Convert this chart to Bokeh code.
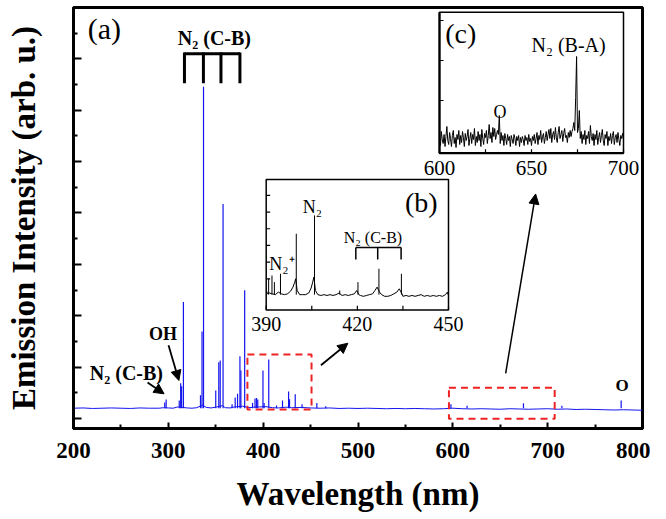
from bokeh.plotting import figure
from bokeh.models import Range1d, FixedTicker, CustomJSTickFormatter, Arrow, NormalHead
from bokeh.core.properties import value
from bokeh.embed import file_html
from bokeh.resources import INLINE

# ---------------- data ----------------
# main spectrum: baseline samples
main_base_wl = [200, 210, 220, 230, 240, 250, 260, 270, 280, 290, 295, 300, 305, 310,
                320, 325, 330, 336, 340, 345, 350, 357, 360, 365, 370, 378, 385, 390,
                396, 403, 410, 416, 424, 430, 440, 450, 460, 470, 480, 490, 500, 510,
                520, 530, 540, 550, 560, 570, 580, 590, 600, 610, 620, 630, 640, 650,
                660, 670, 680, 690, 700, 710, 720, 730, 740, 750, 760, 770, 780, 790, 800]
main_base_val = [0.40, 0.41, 0.39, 0.40, 0.41, 0.40, 0.39, 0.41, 0.40, 0.40, 0.42, 0.41, 0.40, 0.45,
                 0.41, 0.40, 0.42, 0.52, 0.43, 0.41, 0.44, 0.50, 0.42, 0.41, 0.45, 0.48, 0.42, 0.44,
                 0.45, 0.46, 0.42, 0.41, 0.44, 0.42, 0.43, 0.41, 0.40, 0.41, 0.39, 0.40, 0.39, 0.40,
                 0.39, 0.38, 0.39, 0.38, 0.39, 0.38, 0.37, 0.38, 0.40, 0.38, 0.37, 0.38, 0.37, 0.36,
                 0.38, 0.37, 0.36, 0.37, 0.38, 0.36, 0.37, 0.35, 0.36, 0.35, 0.34, 0.33, 0.34, 0.33, 0.32]
main_floor = 0.40
# main spectrum: emission lines (wavelength nm, top value)
main_peak_wl = [296.2, 297.7, 311.5, 313.0, 314.0, 315.9, 333.9, 335.5, 337.1, 350.0,
                353.2, 354.7, 357.7, 367.2, 370.5, 373.0, 375.5, 376.5, 380.5, 388.8,
                391.4, 393.0, 394.3, 399.8, 401.0, 405.9, 414.1, 420.4, 426.8, 427.8,
                433.8, 441.0, 456.6, 466.0, 598.0, 615.0, 674.5, 715.0, 777.5]
main_peak_val = [0.62, 0.74, 0.70, 1.37, 1.25, 4.53, 0.90, 3.39, 12.91, 1.09,
                 2.19, 2.26, 8.35, 0.55, 0.82, 0.96, 2.42, 1.87, 4.99, 0.60,
                 0.78, 0.80, 0.74, 1.87, 0.60, 2.30, 0.51, 0.70, 1.05, 0.75,
                 0.94, 0.55, 0.60, 0.48, 0.55, 0.50, 0.59, 0.50, 0.70]

# inset (b): 390-450 nm
b_base_wl = [390, 390.5, 391, 392, 393, 394, 395, 396, 397, 398, 398.8, 399.4, 399.7, 400.2,
             401, 402, 403, 404, 404.8, 405.3, 405.7, 406.2, 407, 408, 409, 410, 411, 412,
             413, 414, 414.6, 415, 416, 417, 418, 419, 419.8, 420.5, 421, 422, 423, 424,
             425, 425.8, 426.5, 427.3, 428, 429, 430, 431, 432, 433, 433.8, 434.7, 435,
             436, 437, 438, 439, 440, 441, 442, 443, 444, 445, 446, 447, 448, 449, 449.6, 450]
b_base_val = [0.30, 0.10, 0.15, 0.10, 0.05, 0.20, 0.10, 0.05, 0.10, 0.25, 0.50, 0.80, 1.00, 0.30,
              0.05, 0.05, 0.05, 0.15, 0.45, 0.80, 1.10, 0.30, 0.05, 0.00, 0.05, 0.00, 0.05, 0.00,
              0.05, 0.15, 0.05, 0.00, 0.05, 0.00, 0.05, 0.10, 0.30, 0.05, 0.00, -0.05, 0.00, 0.05,
              0.10, 0.30, 0.50, 0.20, 0.05, -0.05, -0.05, 0.00, 0.10, 0.20, 0.40, 0.10, -0.05,
              0.00, -0.05, 0.00, -0.05, 0.00, 0.05, -0.05, 0.00, -0.05, 0.00, -0.05, 0.00, -0.05, 0.05, 0.20, 0.00]
b_floor = 0.05
b_peak_wl = [390.8, 391.9, 392.7, 394.7, 399.9, 405.9, 414.2, 420.2, 427.1, 434.5]
b_peak_val = [1.0, 1.2, 0.8, 1.3, 3.7, 4.8, 0.3, 0.8, 1.6, 1.3]

# inset (c): 600-700 nm, read every 0.5 nm
c_val = [0.3, -0.5, 0.9, 0.1, -0.3, 0.6, -0.6, 0.4, 1.4, 0.0, -0.4, 0.8, 0.2, -0.6, 0.5, 1.0, -0.3, 0.3, -0.7, 0.6,
         0.1, 1.0, -0.4, 0.5, -0.2, 0.9, 0.3, -0.6, 0.7, 0.0, 0.4, 1.1, -0.5, 0.2, 0.8, -0.3, 0.6, 0.1, 1.2, -0.5,
         0.4, -0.2, 0.9, 0.0, 0.6, -0.6, 1.1, 0.2, -0.4, 0.7, 0.3, 1.0, -0.3, 0.5, 1.6, 0.2, 0.8, -0.2, 1.3, 0.4,
         1.2, 0.1, 0.6, 1.0, 0.6, 2.5, -0.3, 0.8, 0.0, 0.5, -0.5, 0.7, 0.2, -0.4, 0.6, 0.0, 0.4, -0.6, 0.5, 0.1,
         -0.3, 0.6, 0.2, -0.5, 0.4, 0.0, 0.5, -0.6, 0.3, -0.2, 0.4, 0.1, -0.5, 0.5, 0.0, 0.3, -0.4, 0.6, -0.1, 0.2,
         -0.5, 0.4, 0.0, 0.6, -0.3, 0.2, 0.8, -0.4, 0.5, 0.1, 1.0, -0.2, 0.4, 0.7, -0.3, 0.3, 0.9, 0.0, 0.6, 1.1,
         0.2, 1.2, -0.2, 0.6, 0.9, 0.1, 1.3, 0.3, -0.2, 0.8, 1.4, 0.2, 0.6, 1.0, -0.1, 0.7, 1.2, 0.3, 0.5, -0.2,
         0.8, 0.3, 1.0, 0.4, 0.9, 1.2, 1.8, 1.0, 4.3, 8.4, 0.8, 1.2, 3.0, 0.2, 0.9, -0.3, 0.6, 0.1, 1.0, -0.4,
         0.5, 0.2, 0.9, -0.3, 1.5, 0.4, 0.0, 0.7, -0.5, 0.6, 0.1, 1.0, -0.4, 0.3, 0.8, -0.2, 0.5, 1.1, 0.0, -0.5,
         0.6, 0.2, 0.9, -0.5, 0.4, 0.0, 0.7, -0.3, 0.5, 0.9, -0.4, 0.3, 0.6, -0.2, 0.8, 0.1, -0.5, 0.5, 0.2, 0.7,
         0.1]
c_wl = [600 + 0.5 * i for i in range(len(c_val))]   # sampling grid

# tick values / labels
x_major = [200, 300, 400, 500, 600, 700, 800]
x_minor = [250, 350, 450, 550, 650, 750]
y_major = [0, 2, 4, 6, 8, 10, 12, 14, 16]
y_minor = [1, 3, 5, 7, 9, 11, 13, 15]
b_xticks = [390, 405, 420, 435, 450]
b_xlabels = ["390", "420", "450"]
b_yticks = [1, 2, 3, 4, 5, 6]
c_xticks = [600, 625, 650, 675, 700]
c_xlabels = ["600", "650", "700"]
c_yticks = [4, 8, 12]
bracket_main = [317, 337, 355.5, 375.5]
bracket_b = [419.5, 426.7, 434.4]

# ---------------- layout ----------------
W, H = 650, 519
BL, BR, BT, BB = 73, 8, 7, 91
OFF = 0
FL, FR, FT, FB = OFF + BL, OFF + W - BR, OFF + BT, OFF + H - BB   # picture pixels of the frame


def rng(v0, p0, v1, p1, lo, hi):
    k = (v1 - v0) / (p1 - p0)
    return Range1d(start=v0 + (lo - p0) * k, end=v0 + (hi - p0) * k)


SERIF = value("Liberation Serif")

p = figure(width=W, height=H, x_range=Range1d(200, 800), y_range=Range1d(-0.39, 16.0),
           output_backend="svg", toolbar_location=None,
           min_border_left=BL, min_border_right=BR, min_border_top=BT, min_border_bottom=BB)
p.grid.visible = False
p.outline_line_color = "black"
p.outline_line_width = 3
p.background_fill_color = "white"
p.border_fill_color = "white"

# inset ranges (placed by picture pixels of their frames)
B_X = (390, 265.7, 450, 448.0)
B_Y = (-0.87, 309.5, 6.95, 179.0)
C_X = (600, 439.0, 700, 623.0)
C_Y = (-1.27, 152.7, 12.83, 11.7)
p.extra_x_ranges = {"bx": rng(*B_X, FL, FR), "cx": rng(*C_X, FL, FR)}
p.extra_y_ranges = {"by": rng(*B_Y, FB, FT), "cy": rng(*C_Y, FB, FT)}

# axes
xa = p.xaxis[0]
xa.ticker = FixedTicker(ticks=x_major, minor_ticks=x_minor)
xa.axis_label = "Wavelength (nm)"
xa.axis_label_text_font = "Liberation Serif"
xa.axis_label_text_font_style = "bold"
xa.axis_label_text_font_size = "33px"
xa.axis_label_standoff = 15
xa.major_label_text_font = "Liberation Serif"
xa.major_label_text_font_style = "bold"
xa.major_label_text_font_size = "23px"
xa.major_label_standoff = 14
ya = p.yaxis[0]
ya.ticker = FixedTicker(ticks=y_major, minor_ticks=y_minor)
ya.formatter = CustomJSTickFormatter(code="return ''")
ya.major_label_standoff = 0
ya.axis_label = "Emission Intensity (arb. u.)"
ya.axis_label_text_font = "Liberation Serif"
ya.axis_label_text_font_style = "bold"
ya.axis_label_text_font_size = "33px"
ya.axis_label_standoff = 32
for ax in (xa, ya):
    ax.axis_line_width = 3
    ax.major_tick_out = 0
    ax.minor_tick_out = 0
    ax.major_tick_line_width = 2
    ax.minor_tick_line_width = 2
    ax.axis_label_text_color = "black"
    ax.major_label_text_color = "black"
xa.major_tick_in = 6
xa.minor_tick_in = 4
ya.major_tick_in = 8
ya.minor_tick_in = 4

# main spectrum
BLUE = "#1414ee"
p.line(main_base_wl, main_base_val, line_color=BLUE, line_width=1)
p.segment(x0=main_peak_wl, y0=[main_floor] * len(main_peak_wl), x1=main_peak_wl, y1=main_peak_val,
          line_color=BLUE, line_width=1.2)

# red dashed boxes
p.quad(left=[383.4, 595.9], right=[451.0, 707.4], bottom=[0.35, -0.01], top=[2.49, 1.20],
       fill_color=None, line_color="#ee2222", line_width=2, line_dash="7 5")

# main annotations
p.text(x=[215], y=[15.18], text=["(a)"], text_font=SERIF, text_font_size="30px",
       text_baseline="middle", text_align="left", text_color="black")
p.text(x=[310, 217.2], y=[14.83, 1.76], text=["N₂ (C-B)", "N₂ (C-B)"], text_font=SERIF,
       text_font_size="20px", text_font_style="bold", text_baseline="alphabetic",
       text_align="left", text_color="black")
p.text(x=[279.6], y=[3.28], text=["OH"], text_font=SERIF, text_font_size="18px",
       text_font_style="bold", text_baseline="alphabetic", text_align="left", text_color="black")
p.text(x=[778.6], y=[1.29], text=["O"], text_font=SERIF, text_font_size="17px",
       text_font_style="bold", text_baseline="alphabetic", text_align="center", text_color="black")
# bracket
p.segment(x0=[bracket_main[0]], y0=[14.2], x1=[bracket_main[-1]], y1=[14.2], line_color="black", line_width=3)
p.segment(x0=bracket_main, y0=[14.25] * 4, x1=bracket_main, y1=[13.05] * 4, line_color="black", line_width=3)

# arrows
for xs, ys, xe, ye, lw in [(300.2, 2.85, 311.1, 1.48, 1.8), (278.1, 1.40, 295.5, 0.96, 1.8),
                           (460.9, 2.07, 489.3, 2.93, 1.8), (655.7, 1.76, 687.3, 8.74, 1.5)]:
    p.add_layout(Arrow(end=NormalHead(size=10, fill_color="black", line_color="black"),
                       x_start=xs, y_start=ys, x_end=xe, y_end=ye,
                       line_color="black", line_width=lw))

# ---------------- inset (b) ----------------
kb = dict(x_range_name="bx", y_range_name="by")
p.quad(left=[390], right=[450], bottom=[B_Y[0]], top=[B_Y[2]], fill_color="white",
       line_color="black", line_width=1.5, **kb)
p.line(b_base_wl, b_base_val, line_color="black", line_width=1, **kb)
p.segment(x0=b_peak_wl, y0=[b_floor] * len(b_peak_wl), x1=b_peak_wl, y1=b_peak_val,
          line_color="black", line_width=1, **kb)
p.segment(x0=b_xticks, y0=[B_Y[0]] * 5, x1=b_xticks, y1=[B_Y[0] + 0.25] * 5, line_color="black", line_width=1.2, **kb)
p.segment(x0=[390] * 6, y0=b_yticks, x1=[391.3] * 6, y1=b_yticks, line_color="black", line_width=1.2, **kb)
p.text(x=[390, 420, 450], y=[-1.68] * 3, text=b_xlabels, text_font=SERIF, text_font_size="20px",
       text_align="center", text_baseline="middle", text_color="black", **kb)
p.text(x=[446.4], y=[5.6], text=["(b)"], text_font=SERIF, text_font_size="28px",
       text_align="right", text_baseline="middle", text_color="black", **kb)
p.text(x=[415.5, 402.0, 391.0], y=[3.47, 5.3, 1.86], text=["N₂ (C-B)", "N₂", "N₂⁺"],
       text_font=SERIF, text_font_size=["16px", "18px", "18px"], text_align="left",
       text_baseline="alphabetic", text_color="black", **kb)
p.segment(x0=[bracket_b[0]], y0=[2.87], x1=[bracket_b[-1]], y1=[2.87], line_color="black", line_width=1.5, **kb)
p.segment(x0=bracket_b, y0=[2.87] * 3, x1=bracket_b, y1=[2.16] * 3, line_color="black", line_width=1.5, **kb)

# ---------------- inset (c) ----------------
kc = dict(x_range_name="cx", y_range_name="cy")
p.quad(left=[600], right=[700], bottom=[C_Y[0]], top=[C_Y[2]], fill_color="white",
       line_color="black", line_width=1.5, **kc)
p.line(c_wl, c_val, line_color="black", line_width=1, **kc)
p.segment(x0=[600, 600], y0=[C_Y[0], C_Y[0]], x1=[600, 700], y1=[C_Y[2], C_Y[0]],
          line_color="black", line_width=2.2, **kc)
p.segment(x0=c_xticks, y0=[C_Y[0]] * 5, x1=c_xticks, y1=[C_Y[0] + 0.4] * 5, line_color="black", line_width=1.2, **kc)
p.segment(x0=[600] * 3, y0=c_yticks, x1=[602.2] * 3, y1=c_yticks, line_color="black", line_width=1.2, **kc)
p.text(x=[600, 650, 700], y=[-2.7] * 3, text=c_xlabels, text_font=SERIF, text_font_size="21px",
       text_align="center", text_baseline="middle", text_color="black", **kc)
p.text(x=[603.1], y=[10.75], text=["(c)"], text_font=SERIF, text_font_size="28px",
       text_align="left", text_baseline="middle", text_color="black", **kc)
p.text(x=[650.0], y=[9.6], text=["N₂ (B-A)"], text_font=SERIF, text_font_size="20px",
       text_align="left", text_baseline="alphabetic", text_color="black", **kc)
p.text(x=[632.9], y=[2.83], text=["O"], text_font=SERIF, text_font_size="18px",
       text_align="center", text_baseline="alphabetic", text_color="black", **kc)

open("out.html", "w").write(file_html(p, INLINE))
